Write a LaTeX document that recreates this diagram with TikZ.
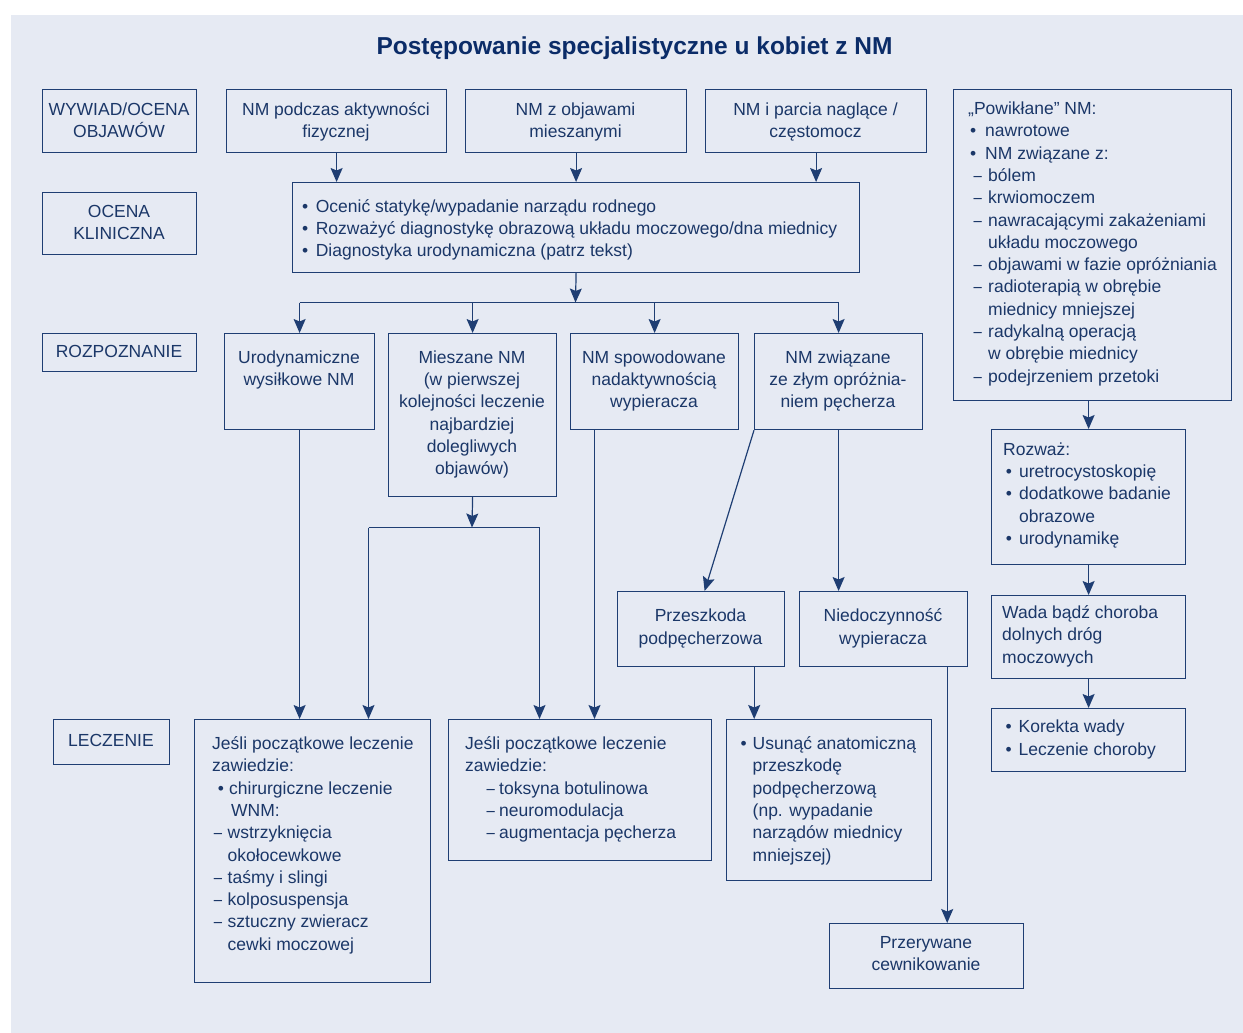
\documentclass[tikz,border=0pt]{standalone}
\usepackage{fontspec}
\usepackage{graphicx}
\setmainfont{Liberation Sans}
\usetikzlibrary{arrows.meta}
\definecolor{bgc}{HTML}{E6EAF3}
\definecolor{ink}{HTML}{1B3768}
\definecolor{edge}{HTML}{1F3E73}
\definecolor{ttl}{HTML}{0B2C68}
\newcommand\bodyfont{\fontsize{17.5}{22.3}\selectfont}
\newcommand\st{\rule{0pt}{18pt}}
\newcommand\bu[2]{\makebox[#2pt][l]{\hspace*{#1pt}•}}
\newcommand\da[2]{\makebox[#2pt][l]{\hspace*{#1pt}\scalebox{0.85}[1]{–}}}
\newcommand\ind[1]{\makebox[#1pt]{}}
\newcommand\bx[5]{\node[box, minimum width={#4-#2}, minimum height={#5-#3}] (#1) at (#2,#3) {};}
\begin{document}
\begin{tikzpicture}[x=1pt,y=-1pt,
 box/.style={draw=edge, line width=1.2pt, inner sep=0pt, anchor=north west},
 tc/.style={inner sep=0pt, anchor=north, align=center, font=\bodyfont, text=ink},
 tl/.style={inner sep=0pt, anchor=north west, align=left, font=\bodyfont, text=ink},
 arr/.style={draw=edge, line width=1.2pt, -{Stealth[length=14pt,width=12pt,inset=2.5pt]}},
 ln/.style={draw=edge, line width=1.2pt}]
\useasboundingbox (0,0) rectangle (1243,1033);
\fill[bgc] (11,15) rectangle (1243,1033);
\node[font=\fontsize{24.5}{28}\selectfont\bfseries, text=ttl, anchor=base, inner sep=0pt] (title) at (634.5,55) {Postępowanie specjalistyczne u kobiet z NM};
% boxes
\bx{lab1}{42}{89}{196}{152}
\bx{lab2}{42}{192}{196}{254}
\bx{lab3}{42}{333}{196}{371}
\bx{lab4}{53}{719}{169}{764}
\bx{a1}{226}{89}{446}{152}
\bx{a2}{465}{89}{686}{152}
\bx{a3}{705}{89}{926}{152}
\bx{pow}{953}{89}{1231}{400}
\bx{ocena}{292}{182}{859}{272}
\bx{b1}{224}{333}{374}{429}
\bx{b2}{388}{333}{556}{496}
\bx{b3}{570}{333}{738}{429}
\bx{b4}{754}{333}{922}{429}
\bx{prz}{617}{591}{784}{666}
\bx{nied}{799}{591}{967}{666}
\bx{roz}{991}{429}{1185}{564}
\bx{wada}{991}{595}{1185}{678}
\bx{kor}{991}{708}{1185}{771}
\bx{l1}{194}{719}{430}{982}
\bx{l2}{448}{719}{711}{860}
\bx{usun}{726}{719}{931}{880}
\bx{przer}{829}{923}{1023}{988}
% texts
\node[tc] (tlab1) at (119,97) {\st WYWIAD/OCENA\\OBJAWÓW};
\node[tc] (tlab2) at (119,199) {\st OCENA\\KLINICZNA};
\node[tc] (tlab3) at (119,339) {\st ROZPOZNANIE};
\node[tc] (tlab4) at (111,728) {\st LECZENIE};
\node[tc] (ta1) at (336,97) {\st NM podczas aktywności\\fizycznej};
\node[tc] (ta2) at (575.5,97) {\st NM z objawami\\mieszanymi};
\node[tc] (ta3) at (815.5,97) {\st NM i parcia naglące /\\częstomocz};
\node[tl] (tpow) at (968,96.3) {\st „Powikłane” NM:\\ \bu{2}{17}nawrotowe\\ \bu{2}{17}NM związane z:\\ \da{5.3}{20}bólem\\ \da{5.3}{20}krwiomoczem\\ \da{5.3}{20}nawracającymi zakażeniami\\ \ind{20}układu moczowego\\ \da{5.3}{20}objawami w fazie opróżniania\\ \da{5.3}{20}radioterapią w obrębie\\ \ind{20}miednicy mniejszej\\ \da{5.3}{20}radykalną operacją\\ \ind{20}w obrębie miednicy\\ \da{5.3}{20}podejrzeniem przetoki};
\node[tl] (tocena) at (302,194) {\st\bu{0}{13.6}Ocenić statykę/wypadanie narządu rodnego\\ \bu{0}{13.6}Rozważyć diagnostykę obrazową układu moczowego/dna miednicy\\ \bu{0}{13.6}Diagnostyka urodynamiczna (patrz tekst)};
\node[tc] (tb1) at (299,345) {\st Urodynamiczne\\wysiłkowe NM};
\node[tc] (tb2) at (472,345) {\st Mieszane NM\\(w pierwszej\\kolejności leczenie\\najbardziej\\dolegliwych\\objawów)};
\node[tc] (tb3) at (654,345) {\st NM spowodowane\\nadaktywnością\\wypieracza};
\node[tc] (tb4) at (838,345) {\st NM związane\\ze złym opróżnia-\\niem pęcherza};
\node[tc] (tprz) at (700.5,603.5) {\st Przeszkoda\\podpęcherzowa};
\node[tc] (tnied) at (883,603.5) {\st Niedoczynność\\wypieracza};
\node[tl] (troz) at (1003,437) {\st Rozważ:\\ \bu{2.7}{16}uretrocystoskopię\\ \bu{2.7}{16}dodatkowe badanie\\ \ind{16}obrazowe\\ \bu{2.7}{16}urodynamikę};
\node[tl] (twada) at (1002,600.3) {\st Wada bądź choroba\\dolnych dróg\\moczowych};
\node[tl] (tkor) at (1005.5,714.7) {\st\bu{0}{13}Korekta wady\\ \bu{0}{13}Leczenie choroby};
\node[tl] (tl1) at (212,731.3) {\st Jeśli początkowe leczenie\\zawiedzie:\\ \bu{5.6}{17}chirurgiczne leczenie\\ \ind{19}WNM:\\ \da{1.7}{15.5}wstrzyknięcia\\ \ind{15.5}okołocewkowe\\ \da{1.7}{15.5}taśmy i slingi\\ \da{1.7}{15.5}kolposuspensja\\ \da{1.7}{15.5}sztuczny zwieracz\\ \ind{15.5}cewki moczowej};
\node[tl] (tl2) at (465,731.3) {\st Jeśli początkowe leczenie\\zawiedzie:\\ \da{21.5}{34}toksyna botulinowa\\ \da{21.5}{34}neuromodulacja\\ \da{21.5}{34}augmentacja pęcherza};
\node[tl] (tusun) at (740.5,731.3) {\st\bu{0}{12}Usunąć anatomiczną\\ \ind{12}przeszkodę\\ \ind{12}podpęcherzową\\ \ind{12}(np. wypadanie\\ \ind{12}narządów miednicy\\ \ind{12}mniejszej)};
\node[tc] (tprzer) at (926,930) {\st Przerywane\\cewnikowanie};
% connectors
\coordinate (hub) at (575.5,302.5);
\draw[arr] (a1.south) -- (a1.south |- ocena.north);
\draw[arr] (a2.south) -- (a2.south |- ocena.north);
\draw[arr] (a3.south) -- (a3.south |- ocena.north);
\draw[arr] (ocena.south) -- (hub);
\draw[ln] (b1.north |- hub) -- (b4.north |- hub);
\foreach \n in {b1,b2,b3,b4} \draw[arr] (\n.north |- hub) -- (\n.north);
\draw[arr] (b1.south) -- (b1.south |- l1.north);
\coordinate (m0) at (472,527.5);
\coordinate (m1) at (368.5,527.5);
\coordinate (m2) at (539.5,527.5);
\draw[arr] (b2.south) -- (m0);
\draw[ln] (m1) -- (m2);
\draw[arr] (m1) -- (m1 |- l1.north);
\draw[arr] (m2) -- (m2 |- l2.north);
\coordinate (b3o) at ([xshift=24.5pt]b3.south west);
\draw[arr] (b3o) -- (b3o |- l2.north);
\draw[arr] (b4.south west) -- ([xshift=3.5pt]prz.north);
\draw[arr] (b4.south) -- (b4.south |- nied.north);
\coordinate (p1) at ([xshift=-31pt]prz.south east);
\draw[arr] (p1) -- (p1 |- usun.north);
\coordinate (n1) at ([xshift=-21pt]nied.south east);
\draw[arr] (n1) -- (n1 |- przer.north);
\draw[arr] (roz.north |- pow.south) -- (roz.north);
\draw[arr] (roz.south) -- (wada.north);
\draw[arr] (wada.south) -- (kor.north);
\end{tikzpicture}
\end{document}
